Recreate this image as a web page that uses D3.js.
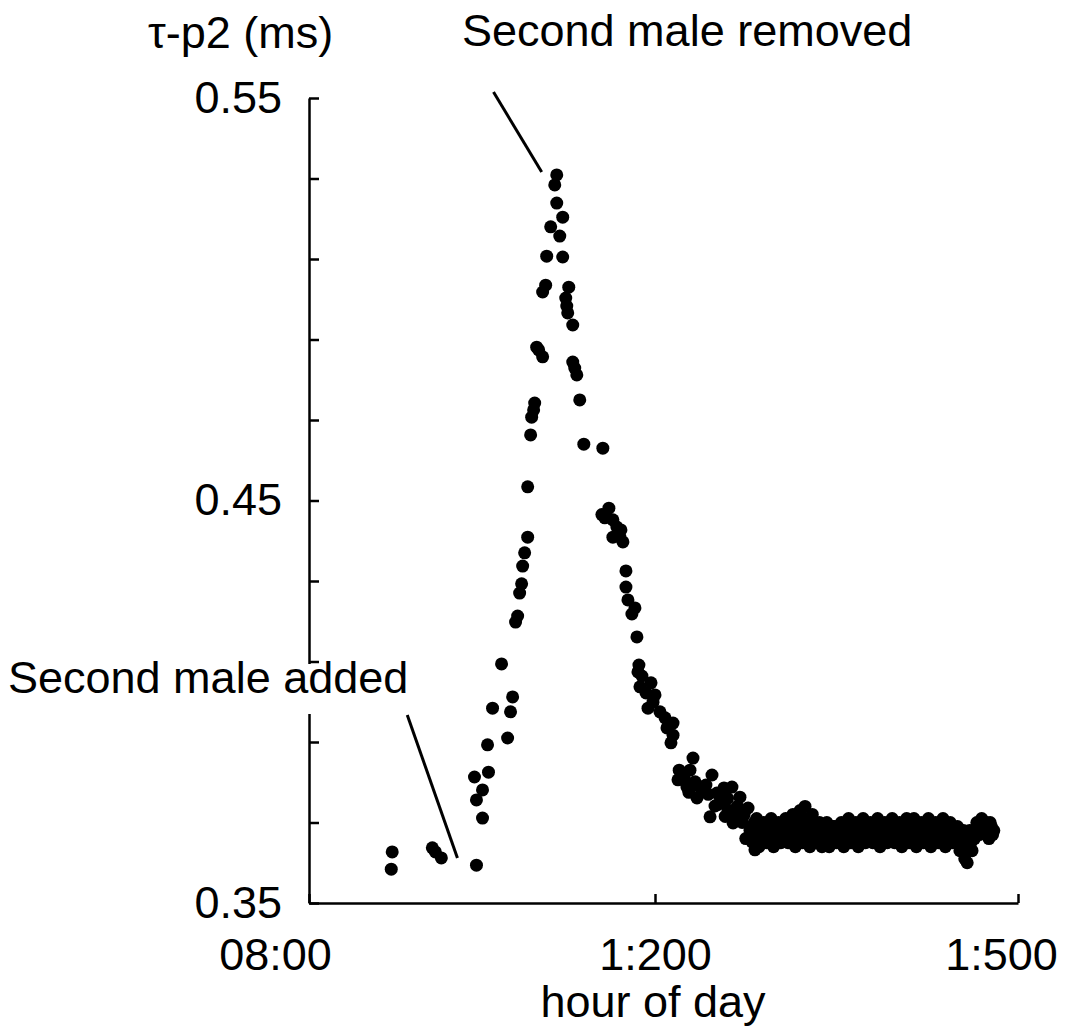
<!DOCTYPE html>
<html>
<head>
<meta charset="utf-8">
<script src="https://cdnjs.cloudflare.com/ajax/libs/d3/7.8.5/d3.min.js"></script>
<style>
  body { margin: 0; background: #fff; }
  svg { display: block; font-family: "Liberation Sans", Arial, Helvetica, sans-serif; }
  .axis path, .axis line { stroke: #000; stroke-width: 2.5; }
  .axis text { font-family: "Liberation Sans", Arial, Helvetica, sans-serif; font-size: 45px; fill: #000; }
  .label { font-size: 45px; fill: #000; }
</style>
</head>
<body>
<div id="vis"></div>
<script>
// tau-p2 (ms) against hour of day.
// each point is [hour, tau-p2]
var beforeAdd = [
    [8.962, 0.3627], [8.951, 0.3584], [9.426, 0.3637], [9.461, 0.3627], [9.530, 0.3612], [9.936, 0.3594]
];

var rise = [
    [9.913, 0.3813], [9.936, 0.3756], [10.006, 0.3781], [10.006, 0.3711], [10.075, 0.3825], [10.064, 0.3893],
    [10.296, 0.3910], [10.330, 0.3975], [10.122, 0.3984], [10.354, 0.4012], [10.226, 0.4094], [10.388, 0.4198],
    [10.412, 0.4213], [10.435, 0.4270], [10.458, 0.4293], [10.470, 0.4337], [10.493, 0.4370], [10.528, 0.4409],
    [10.528, 0.4534], [10.562, 0.4663], [10.574, 0.4707], [10.597, 0.4725], [10.609, 0.4742], [10.632, 0.4881],
    [10.655, 0.4874], [10.701, 0.4857], [10.701, 0.5018], [10.736, 0.5035], [10.748, 0.5107], [10.794, 0.5180],
    [10.864, 0.5239], [10.841, 0.5284], [10.864, 0.5309]
];

var fall = [
    [10.933, 0.5204], [10.899, 0.5157], [10.933, 0.5105], [11.003, 0.5030], [10.968, 0.5003], [10.980, 0.4983],
    [10.991, 0.4966], [11.049, 0.4936], [11.049, 0.4844], [11.072, 0.4829], [11.096, 0.4812], [11.130, 0.4750],
    [11.177, 0.4640], [11.397, 0.4630], [11.467, 0.4481], [11.420, 0.4457], [11.386, 0.4465], [11.513, 0.4452],
    [11.559, 0.4434], [11.513, 0.4409], [11.594, 0.4409], [11.629, 0.4397], [11.606, 0.4427], [11.664, 0.4325],
    [11.664, 0.4285], [11.687, 0.4253], [11.733, 0.4218], [11.768, 0.4233], [11.791, 0.4161], [11.814, 0.4091],
    [11.803, 0.4074], [11.849, 0.4064], [11.826, 0.4037], [11.954, 0.4047], [11.896, 0.4022], [12.000, 0.4017],
    [11.919, 0.3984], [11.977, 0.3999], [12.041, 0.3975], [12.083, 0.3960], [12.149, 0.3947], [12.099, 0.3935],
    [12.149, 0.3917], [12.132, 0.3898], [12.314, 0.3860], [12.289, 0.3830], [12.190, 0.3806], [12.240, 0.3811],
    [12.264, 0.3788], [12.331, 0.3801], [12.471, 0.3818], [12.421, 0.3793], [12.397, 0.3781], [12.347, 0.3761],
    [12.512, 0.3773], [12.570, 0.3786], [12.636, 0.3788], [12.702, 0.3763], [12.554, 0.3756], [12.455, 0.3714],
    [12.496, 0.3741], [12.645, 0.3699], [12.603, 0.3731], [12.769, 0.3736], [12.736, 0.3719], [12.785, 0.3681],
    [12.826, 0.3632], [12.802, 0.3652], [12.200, 0.3830], [12.360, 0.3790], [12.440, 0.3770], [12.520, 0.3745],
    [12.600, 0.3760], [12.680, 0.3740], [12.720, 0.3700], [12.660, 0.3720], [12.280, 0.3775], [12.580, 0.3715],
    [12.750, 0.3660], [12.820, 0.3700]
];

var settle = [
    [12.84, 0.371], [12.86, 0.364], [12.88, 0.368], [12.90, 0.370], [12.92, 0.365], [12.94, 0.367],
    [12.96, 0.371], [12.98, 0.364], [13.00, 0.368], [13.02, 0.370], [13.04, 0.365], [13.06, 0.368],
    [13.08, 0.371], [13.10, 0.365], [13.12, 0.367], [13.14, 0.372], [13.16, 0.364], [13.18, 0.369],
    [13.20, 0.373], [13.22, 0.365], [13.24, 0.374], [13.26, 0.369], [13.28, 0.364], [13.30, 0.372],
    [13.32, 0.366], [13.34, 0.369], [13.36, 0.370], [13.38, 0.364], [13.40, 0.368], [13.42, 0.370],
    [13.44, 0.364], [13.46, 0.367], [13.48, 0.369], [13.50, 0.365], [13.52, 0.368], [13.54, 0.370],
    [13.56, 0.364], [13.58, 0.367], [13.60, 0.371], [13.62, 0.365], [13.64, 0.368], [13.66, 0.370],
    [13.68, 0.364], [13.70, 0.367], [13.72, 0.371], [13.74, 0.365], [13.76, 0.368], [13.78, 0.370],
    [13.80, 0.365], [13.82, 0.368], [13.84, 0.371], [13.86, 0.364], [13.88, 0.367], [13.90, 0.370],
    [13.92, 0.365], [13.94, 0.369], [13.96, 0.371], [13.98, 0.365], [14.00, 0.368], [14.02, 0.370],
    [14.04, 0.364], [14.06, 0.367], [14.08, 0.371], [14.10, 0.365], [14.12, 0.368], [14.14, 0.371],
    [14.16, 0.364], [14.18, 0.367], [14.20, 0.370], [14.22, 0.365], [14.24, 0.368], [14.26, 0.371],
    [14.28, 0.364], [14.30, 0.368], [14.32, 0.370], [14.34, 0.365], [14.36, 0.367], [14.38, 0.371],
    [14.40, 0.364], [14.42, 0.368], [14.44, 0.370], [14.46, 0.365], [14.48, 0.367], [14.50, 0.369],
    [14.52, 0.363], [14.54, 0.366], [14.56, 0.361], [14.58, 0.360], [14.60, 0.368], [14.62, 0.363],
    [14.64, 0.366], [14.66, 0.370], [14.68, 0.367], [14.70, 0.371], [14.72, 0.368], [14.74, 0.370],
    [14.76, 0.366], [14.78, 0.369], [14.80, 0.368]
];

// second run of samples in the flat stretch, between the ones above
var settleB = [
    [12.85, 0.366], [12.87, 0.369], [12.89, 0.366], [12.91, 0.369], [12.93, 0.367], [12.95, 0.369],
    [12.97, 0.366], [12.99, 0.369], [13.01, 0.366], [13.03, 0.369], [13.05, 0.366], [13.07, 0.370],
    [13.09, 0.367], [13.11, 0.369], [13.13, 0.366], [13.15, 0.370], [13.17, 0.367], [13.19, 0.371],
    [13.21, 0.368], [13.23, 0.371], [13.25, 0.367], [13.27, 0.370], [13.29, 0.366], [13.31, 0.369],
    [13.33, 0.366], [13.35, 0.368], [13.37, 0.366], [13.39, 0.369], [13.41, 0.366], [13.43, 0.368],
    [13.45, 0.366], [13.47, 0.369], [13.49, 0.366], [13.51, 0.369], [13.53, 0.366], [13.55, 0.368],
    [13.57, 0.366], [13.59, 0.369], [13.61, 0.367], [13.63, 0.369], [13.65, 0.366], [13.67, 0.369],
    [13.69, 0.366], [13.71, 0.369], [13.73, 0.367], [13.75, 0.369], [13.77, 0.366], [13.79, 0.369],
    [13.81, 0.366], [13.83, 0.369], [13.85, 0.367], [13.87, 0.369], [13.89, 0.366], [13.91, 0.368],
    [13.93, 0.366], [13.95, 0.369], [13.97, 0.367], [13.99, 0.369], [14.01, 0.366], [14.03, 0.369],
    [14.05, 0.366], [14.07, 0.369], [14.09, 0.367], [14.11, 0.369], [14.13, 0.366], [14.15, 0.369],
    [14.17, 0.366], [14.19, 0.369], [14.21, 0.367], [14.23, 0.369], [14.25, 0.366], [14.27, 0.369],
    [14.29, 0.366], [14.31, 0.369], [14.33, 0.367], [14.35, 0.369], [14.37, 0.366], [14.39, 0.369],
    [14.41, 0.366], [14.43, 0.369], [14.45, 0.367], [14.47, 0.368], [14.49, 0.365], [14.51, 0.368],
    [14.53, 0.364], [14.55, 0.368], [14.57, 0.363], [14.59, 0.366], [14.61, 0.365], [14.63, 0.368],
    [14.65, 0.368], [14.67, 0.369], [14.69, 0.369], [14.71, 0.369], [14.73, 0.369], [14.75, 0.368],
    [14.77, 0.370], [14.79, 0.367]
];

// axis ticks and labels (the x labels are printed this way in the figure)
var xTicks = [8, 12, 15];
var xTickLabels = ['08:00', '1:200', '1:500'];
var yTicks = [0.35, 0.37, 0.39, 0.41, 0.43, 0.45, 0.47, 0.49, 0.51, 0.53, 0.55];
var yLabelled = [0.35, 0.45, 0.55];

// annotations: [label, [hour, value] of line top, [hour, value] of line bottom]
var notes = [
    ['Second male removed', [10.133, 0.5515], [10.690, 0.5316]],
    ['Second male added', [9.136, 0.3967], [9.716, 0.3612]]
];

var width = 1068,
    height = 1028;

var svg = d3.select('#vis').append('svg')
    .attr('width', width)
    .attr('height', height);

// the hour axis is not evenly spaced in the original, so use a piecewise scale
var xScale = d3.scaleLinear()
    .domain(xTicks)
    .range([309, 655, 1018]);

var yScale = d3.scaleLinear()
    .domain([0.35, 0.55])
    .range([903, 98]);

var yAxis = d3.axisLeft(yScale)
    .tickValues(yTicks)
    .tickSizeInner(-10)
    .tickSizeOuter(0)
    .tickPadding(27)
    .tickFormat(function(d) {
        var hit = yLabelled.some(function(v) { return Math.abs(v - d) < 1e-6; });
        return hit ? d3.format('.2f')(d) : '';
    });

var xAxis = d3.axisBottom(xScale)
    .tickValues(xTicks)
    .tickSizeInner(-9)
    .tickSizeOuter(0)
    .tickPadding(35)
    .tickFormat(function(d, i) { return xTickLabels[i]; });

svg.append('g')
    .attr('class', 'axis')
    .attr('transform', 'translate(309,0)')
    .call(yAxis);

var xg = svg.append('g')
    .attr('class', 'axis')
    .attr('transform', 'translate(0,903)')
    .call(xAxis);

// the first and last hour labels sit a little left of their ticks
xg.selectAll('.tick text')
    .attr('dx', function(d, i) { return i == 0 ? -34 : (i == 2 ? -17 : 0); });

// axis titles
svg.append('text')
    .attr('class', 'label')
    .attr('x', 148)
    .attr('y', 48)
    .text('\u03C4-p2 (ms)');

svg.append('text')
    .attr('class', 'label')
    .attr('x', 653)
    .attr('y', 1017)
    .attr('text-anchor', 'middle')
    .text('hour of day');

// points
var allPoints = beforeAdd.concat(rise, fall, settle, settleB);

svg.append('g')
    .selectAll('circle')
    .data(allPoints)
    .enter().append('circle')
    .attr('cx', function(d) { return xScale(d[0]); })
    .attr('cy', function(d) { return yScale(d[1]); })
    .attr('r', 6.5)
    .attr('fill', '#000');

// annotation lines
svg.append('g')
    .selectAll('line')
    .data(notes)
    .enter().append('line')
    .attr('x1', function(d) { return xScale(d[1][0]); })
    .attr('y1', function(d) { return yScale(d[1][1]); })
    .attr('x2', function(d) { return xScale(d[2][0]); })
    .attr('y2', function(d) { return yScale(d[2][1]); })
    .attr('stroke', '#000')
    .attr('stroke-width', 3);

// the lower label breaks the y axis line, so blank it out behind the text
svg.append('rect')
    .attr('x', 300)
    .attr('y', 664)
    .attr('width', 20)
    .attr('height', 50)
    .attr('fill', '#fff');

svg.append('text')
    .attr('class', 'label')
    .attr('x', 462)
    .attr('y', 46)
    .text(notes[0][0]);

svg.append('text')
    .attr('class', 'label')
    .attr('x', 8)
    .attr('y', 693)
    .text(notes[1][0]);
</script>
</body>
</html>
